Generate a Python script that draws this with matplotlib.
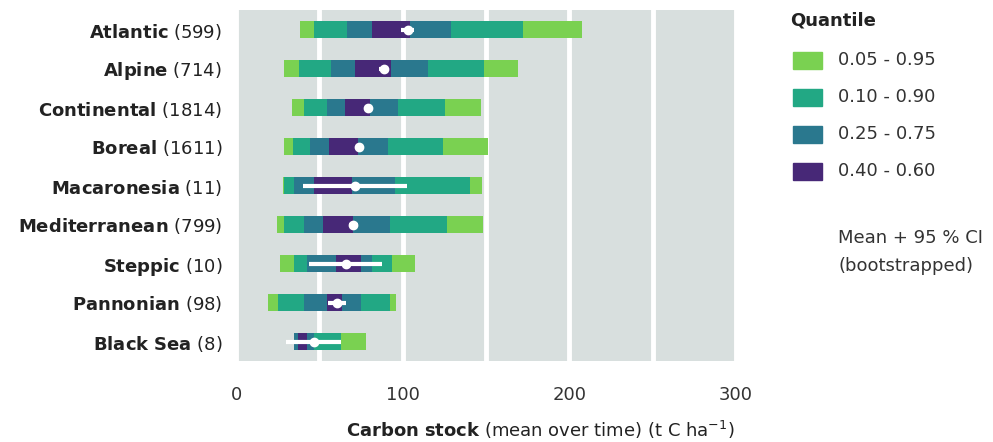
import numpy as np
import matplotlib
matplotlib.use("Agg")
from matplotlib import pyplot as plt
from matplotlib.patches import Rectangle

plt.rcParams['font.family'] = ['DejaVu Sans']
plt.rcParams['mathtext.fontset'] = 'dejavusans'

# data
regions = ["Atlantic", "Alpine", "Continental", "Boreal", "Macaronesia",
           "Mediterranean", "Steppic", "Pannonian", "Black Sea"]
counts = [599, 714, 1814, 1611, 11, 799, 10, 98, 8]
q05 = [38.6, 28.6, 33.8, 28.6, 28.4, 24.6, 26.6, 19.0, 34.6]
q95 = [207.8, 169.4, 147.0, 151.4, 147.4, 148.4, 107.2, 96.2, 78.0]
q10 = [47.0, 37.6, 40.6, 34.0, 29.0, 28.6, 35.0, 25.0, 34.6]
q90 = [172.0, 149.0, 125.6, 124.2, 140.2, 126.8, 93.8, 92.6, 63.0]
q25 = [66.4, 57.0, 54.4, 44.6, 34.6, 40.6, 42.6, 41.0, 35.0]
q75 = [128.8, 115.4, 97.2, 91.0, 95.4, 92.6, 81.8, 75.0, 46.6]
q40 = [81.6, 71.4, 65.4, 55.6, 47.0, 52.4, 60.2, 54.4, 37.0]
q60 = [104.6, 93.2, 80.6, 73.0, 69.4, 70.4, 75.2, 63.6, 42.6]
mean = [103.0, 88.6, 79.0, 74.0, 71.4, 70.4, 66.0, 60.6, 47.0]
ci_lo = [99.0, 86.0, 77.5, 72.5, 40.0, 68.0, 44.0, 55.0, 30.0]
ci_hi = [107.0, 91.0, 80.5, 75.5, 102.4, 73.0, 87.4, 66.0, 63.0]

quant_labels = ["0.05 - 0.95", "0.10 - 0.90", "0.25 - 0.75", "0.40 - 0.60"]
quant_colors = ["#7ad151", "#22a884", "#2a788e", "#472877"]

FS = 13

fig = plt.figure(figsize=(9.93, 4.42), dpi=100)
ax = fig.add_axes([236 / 993, 1 - 361 / 442, 500 / 993, 351 / 442])
ax.set_facecolor("#d8dfde")

y = np.arange(len(regions))
bar_h = 0.45
pairs = [(q05, q95), (q10, q90), (q25, q75), (q40, q60)]
for (lo, hi), c in zip(pairs, quant_colors):
    lo = np.array(lo)
    hi = np.array(hi)
    ax.barh(y, hi - lo, left=lo, height=bar_h, color=c, zorder=2)

ax.hlines(y, ci_lo, ci_hi, color="white", lw=3, zorder=3)
ax.plot(mean, y, "o", color="white", ms=6, zorder=4)

ax.set_xlim(0, 300)
ax.set_ylim(len(regions) - 0.5, -0.5)
ax.set_xticks([0, 100, 200, 300])
ax.set_xticks([50, 150, 250], minor=True)
ax.grid(which="both", axis="x", color="white", lw=3.5, zorder=1)
ax.set_axisbelow(True)
for s in ax.spines.values():
    s.set_visible(False)
ax.tick_params(axis="x", which="both", length=0, pad=18, labelsize=FS, labelcolor="#333333")
ax.tick_params(axis="y", length=0, pad=10, labelsize=FS, labelcolor="#222222")

ylabels = [r"$\bf{" + r.replace(" ", r"\ ") + "}$ (" + str(n) + ")" for r, n in zip(regions, counts)]
ax.set_yticks(y)
ax.set_yticklabels(ylabels)

ax.set_xlabel(r"$\bf{Carbon\ stock}$ (mean over time) (t C ha$^{-1}$)", fontsize=FS, color="#222222")
ax.xaxis.set_label_coords((540 - 236) / 500, -0.165)

# legend drawn by hand
W, H = 993, 442
fig.text(790 / W, 1 - 20 / H, "Quantile", fontsize=FS, fontweight="bold", color="#222222", va="center")
for i, (lab, c) in enumerate(zip(quant_labels, quant_colors)):
    yc = 60 + 37 * i
    fig.patches.append(Rectangle((793 / W, 1 - (yc + 8.5) / H), 29 / W, 17 / H,
                                 transform=fig.transFigure, color=c))
    fig.text(838 / W, 1 - yc / H, lab, fontsize=FS, color="#333333", va="center")
fig.text(838 / W, 1 - 238 / H, "Mean + 95 % CI", fontsize=FS, color="#333333", va="center")
fig.text(838 / W, 1 - 266 / H, "(bootstrapped)", fontsize=FS, color="#333333", va="center")

plt.savefig("out.png", dpi=100)
